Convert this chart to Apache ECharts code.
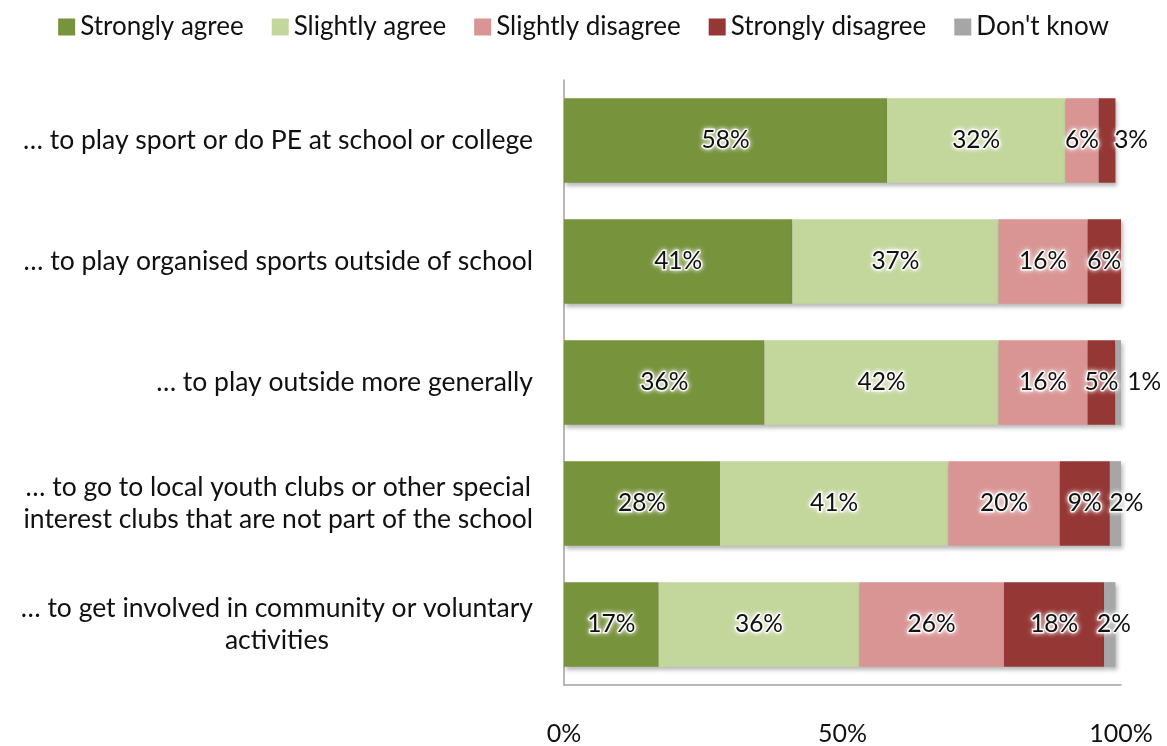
<!DOCTYPE html>
<html>
<head>
<meta charset="utf-8">
<title>Encouragement to take part in activities</title>
<script src="https://cdn.jsdelivr.net/npm/echarts@6/dist/echarts.min.js"></script>
<style>
  html, body { margin: 0; padding: 0; background: #ffffff; }
  #chart { width: 1167px; height: 746px; }
</style>
</head>
<body>
<div id="chart"></div>
<script>
// Survey statements, top to bottom
const categories = [
  '\u2026 to play sport or do PE at school or college',
  '\u2026 to play organised sports outside of school',
  '\u2026 to play outside more generally',
  '\u2026 to go to local youth clubs or other special\ninterest clubs that are not part of the school',
  '\u2026 to get involved in community or voluntary\nactivities'
];

const seriesNames = ['Strongly agree', 'Slightly agree', 'Slightly disagree', 'Strongly disagree', "Don't know"];

// Percent of respondents per answer
const stronglyAgree     = [58, 41, 36, 28, 17];
const slightlyAgree     = [32, 37, 42, 41, 36];
const slightlyDisagree  = [6, 16, 16, 20, 26];
const stronglyDisagree  = [3, 6, 5, 9, 18];
const dontKnow          = [0, 0, 1, 2, 2];

const xTickLabels = ['0%', '50%', '100%'];

const seriesValues = [stronglyAgree, slightlyAgree, slightlyDisagree, stronglyDisagree, dontKnow];
const seriesColors = ['#77933C', '#C3D69B', '#D99594', '#953735', '#A6A6A6'];

// Small sideways nudges for labels on the narrow end segments (series index, row index, px)
const labelNudges = [[3, 0, 24], [4, 2, 26], [4, 3, 11], [4, 4, 4]];

const FONT = 'Lato';

const series = seriesValues.map((vals, s) => ({
  name: seriesNames[s],
  type: 'bar',
  stack: 'total',
  barCategoryGap: '30%',
  itemStyle: {
    color: seriesColors[s],
    shadowColor: 'rgba(0,0,0,0.28)',
    shadowBlur: 4,
    shadowOffsetX: 2,
    shadowOffsetY: 3
  },
  label: {
    show: true,
    position: 'inside',
    fontFamily: FONT,
    fontSize: 24.5,
    color: '#111111',
    textBorderColor: 'rgba(255,255,255,0.85)',
    textBorderWidth: 3,
    textShadowColor: 'rgba(255,255,255,0.9)',
    textShadowBlur: 5,
    formatter: p => (p.value > 0 ? p.value + '%' : '')
  },
  data: vals.map((v, i) => {
    const n = labelNudges.find(d => d[0] === s && d[1] === i);
    return n ? { value: v, label: { offset: [n[2], 0] } } : { value: v };
  })
}));

const chart = echarts.init(document.getElementById('chart'), null, { renderer: 'canvas' });

chart.setOption({
  animation: false,
  backgroundColor: '#ffffff',
  legend: {
    top: 9,
    left: 'center',
    itemWidth: 17,
    itemHeight: 17,
    itemGap: 28,
    icon: 'rect',
    textStyle: { fontFamily: FONT, fontSize: 26, color: '#111111' },
    data: seriesNames
  },
  grid: { left: 564, right: 46, top: 80, bottom: 56, containLabel: false },
  xAxis: {
    type: 'value',
    min: 0,
    max: 100,
    interval: 50,
    axisLine: { show: true, lineStyle: { color: '#A0A0A0', width: 1.5 } },
    axisTick: { show: false },
    splitLine: { show: false },
    axisLabel: {
      margin: 36,
      fontFamily: FONT,
      fontSize: 25,
      color: '#111111',
      formatter: v => xTickLabels[Math.round(v / 50)] || ''
    }
  },
  yAxis: {
    type: 'category',
    inverse: true,
    data: categories,
    axisLine: { show: true, lineStyle: { color: '#A0A0A0', width: 1.5 } },
    axisTick: { show: false },
    axisLabel: {
      margin: 31,
      align: 'right',
      formatter: v => v.split('\n').map(line => '{c|' + line + '}').join('\n'),
      rich: {
        c: { align: 'center', fontFamily: FONT, fontSize: 26.5, lineHeight: 32, color: '#111111' }
      }
    }
  },
  series: series
});
</script>
</body>
</html>
